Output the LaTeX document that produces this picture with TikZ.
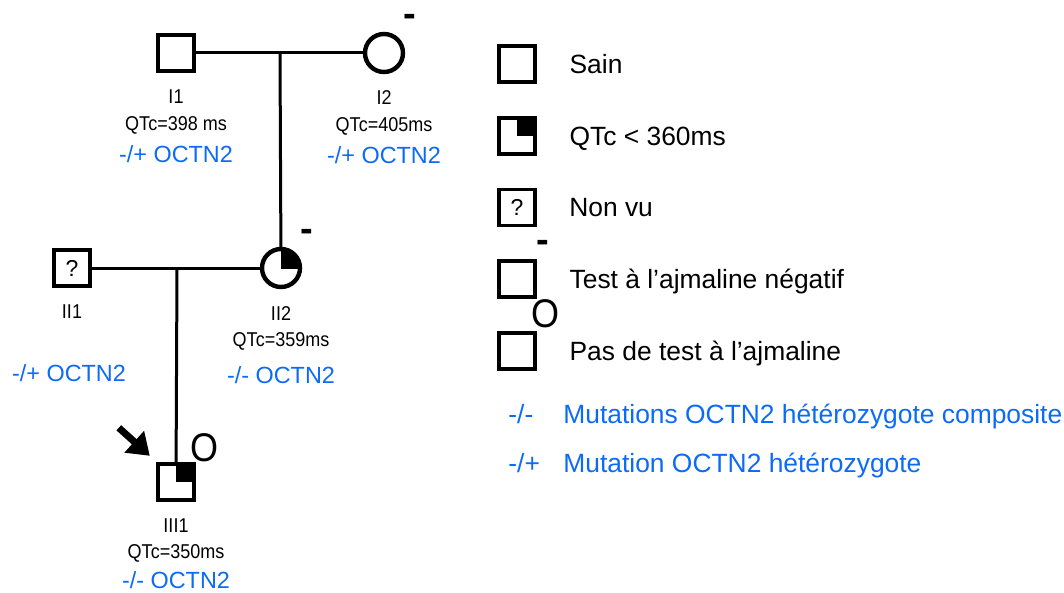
\documentclass[tikz,border=0pt]{standalone}
\usepackage{fontspec}
\setmainfont{Liberation Sans}
\newfontfamily\narrowfont{Liberation Sans}[FakeStretch=0.9]
\usetikzlibrary{arrows.meta,positioning,calc}
\definecolor{PedBlack}{HTML}{000000}
\definecolor{PedWhite}{HTML}{ffffff}
\definecolor{PedBlue}{HTML}{0B6BF7}
\tikzset{
    % Pedigree symbols
    male/.style={
        rectangle,
        draw=PedBlack,
        line width=2.2pt,
        fill=PedWhite,
        minimum size=18pt,
        inner sep=0pt
    },
    female/.style={
        circle,
        draw=PedBlack,
        line width=2.2pt,
        fill=PedWhite,
        minimum size=19pt,
        inner sep=0pt
    },
    unseen/.style={
        male,
        line width=1.9pt,
        font=\fontsize{11.5pt}{12pt}\selectfont
    },
    couple line/.style={
        line width=1.5pt,
        color=PedBlack
    },
    % Texts under the symbols
    id label/.style={
        inner sep=0pt,
        text height=7.2pt,
        text depth=0pt,
        font=\narrowfont\fontsize{10pt}{10pt}\selectfont
    },
    gene label/.style={
        inner sep=0pt,
        text height=8.4pt,
        text depth=0pt,
        text=PedBlue,
        font=\fontsize{11.7pt}{12pt}\selectfont
    },
    test mark/.style={
        inner sep=0pt,
        anchor=base,
        font=\fontsize{19pt}{19pt}\selectfont
    },
    zero mark/.style={
        test mark,
        font=\narrowfont\fontsize{20pt}{20pt}\selectfont
    },
    legend text/.style={
        inner sep=0pt,
        text height=9.5pt,
        text depth=0pt,
        anchor=west,
        font=\fontsize{13.2pt}{14pt}\selectfont
    },
    legend gene/.style={
        legend text,
        text=PedBlue
    },
    proband/.style={
        -{Triangle[length=10.5pt,width=14pt]},
        line width=3.5pt,
        color=PedBlack
    }
}

\begin{document}
\begin{tikzpicture}[x=0.5pt, y=-0.5pt]
    \useasboundingbox (0,0) rectangle (1064,593);

    % Generation I
    \node[male] (I1) at (176,53) {};
    \node[female] (I2) at (384,53) {};
    \coordinate (I12) at (280,53);

    % Generation II
    \node[unseen] (II1) at (72,268) {?};
    \node[female] (II2) at (281,268) {};
    \coordinate (II12) at (177,268);
    \begin{scope}
        \clip (II2.center) rectangle ([xshift=12pt,yshift=12pt]II2.center);
        \fill[PedBlack] (II2.center) circle[radius=9.5pt];
    \end{scope}

    % Generation III
    \node[male] (III1) at (176,482) {};
    \fill[PedBlack] (III1.center) rectangle ([xshift=9pt,yshift=9pt]III1.center);

    % Lines of descent
    \draw[couple line] (I1) -- (I2);
    \draw[couple line] (I12) -- (II2);
    \draw[couple line] (II1) -- (II2);
    \draw[couple line] (II12) -- (III1);

    % Proband arrow
    \coordinate (arrowtip) at ([xshift=-3pt,yshift=3pt]III1.north west);
    \coordinate (arrowtail) at ([xshift=-15.5pt,yshift=14pt]arrowtip);
    \draw[proband] (arrowtail) -- (arrowtip);

    % Ajmaline marks
    \node[test mark] (I2test) at ([xshift=13pt,yshift=13pt]I2.center) {\bfseries -};
    \node[test mark] (II2test) at ([xshift=13pt,yshift=13.3pt]II2.center) {\bfseries -};
    \node[zero mark] (III1test) at ([xshift=14pt,yshift=10.5pt]III1.center) {O};

    % Labels
    \node[id label, below=8pt of I1] (I1id) {I1};
    \node[id label, below=5.8pt of I1id] (I1qtc) {QTc=398 ms};
    \node[gene label, below=7.2pt of I1qtc] (I1gene) {-/+ OCTN2};
    \node[id label, below=8pt of I2] (I2id) {I2};
    \node[id label, below=5.8pt of I2id] (I2qtc) {QTc=405ms};
    \node[gene label, below=7.2pt of I2qtc] (I2gene) {-/+ OCTN2};
    \node[id label, below=8pt of II1] (II1id) {II1};
    \node[gene label, below=22.7pt of II1id, xshift=-1.5pt] (II1gene) {-/+ OCTN2};
    \node[id label, below=8pt of II2] (II2id) {II2};
    \node[id label, below=5.8pt of II2id] (II2qtc) {QTc=359ms};
    \node[gene label, below=9.7pt of II2qtc] (II2gene) {-/- OCTN2};
    \node[id label, below=7.5pt of III1] (III1id) {III1};
    \node[id label, below=5.6pt of III1id] (III1qtc) {QTc=350ms};
    \node[gene label, below=6.2pt of III1qtc] (III1gene) {-/- OCTN2};

    % Legend
    \node[male] (sain) at (517,64) {};
    \node[male, below=15.75pt of sain] (qtc) {};
    \fill[PedBlack] (qtc.center) rectangle ([xshift=9pt,yshift=9pt]qtc.center);
    \node[unseen, below=15.75pt of qtc] (nonvu) {?};
    \node[male, below=15.75pt of nonvu] (ajneg) {};
    \node[male, below=15.75pt of ajneg] (ajnone) {};
    \node[test mark] (ajnegmark) at ([xshift=13pt,yshift=13.3pt]ajneg.center) {\bfseries -};
    \node[zero mark] (ajnonemark) at ([xshift=14pt,yshift=12pt]ajnone.center) {O};

    \node[legend text, right=16pt of sain] (saintext) {Sain};
    \node[legend text, right=16pt of qtc] (qtctext) {QTc < 360ms};
    \node[legend text, right=16pt of nonvu] (nonvutext) {Non vu};
    \node[legend text, right=16pt of ajneg] (ajnegtext) {Test à l’ajmaline négatif};
    \node[legend text, right=16pt of ajnone] (ajnonetext) {Pas de test à l’ajmaline};

    \node[legend gene] (homsym) at (508,414) {-/-};
    \node[legend gene] (homtext) at (563,414) {Mutations OCTN2 hétérozygote composite};
    \node[legend gene] (hetsym) at (508,463) {-/+};
    \node[legend gene] (hettext) at (homtext.west |- hetsym) {Mutation OCTN2 hétérozygote};
\end{tikzpicture}
\end{document}
